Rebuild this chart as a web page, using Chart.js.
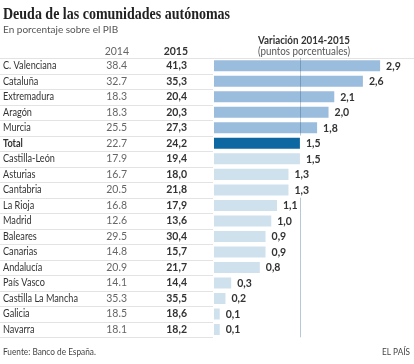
<!DOCTYPE html>
<html>
<head>
<meta charset="utf-8">
<script src="https://cdn.jsdelivr.net/npm/chart.js@4.4.1/dist/chart.umd.min.js"></script>
<style>
html,body{margin:0;padding:0;background:#fff;}
#wrap{width:414px;height:364px;position:relative;}
</style>
</head>
<body>
<div id="wrap"><canvas id="c" width="414" height="364"></canvas></div>
<script>
const categories = ['C. Valenciana','Cataluña','Extremadura','Aragón','Murcia','Total','Castilla-León','Asturias','Cantabria','La Rioja','Madrid','Baleares','Canarias','Andalucía','País Vasco','Castilla La Mancha','Galicia','Navarra'];
const values2014 = [38.4, 32.7, 18.3, 18.3, 25.5, 22.7, 17.9, 16.7, 20.5, 16.8, 12.6, 29.5, 14.8, 20.9, 14.1, 35.3, 18.5, 18.1];
const values2015 = [41.3, 35.3, 20.4, 20.3, 27.3, 24.2, 19.4, 18.0, 21.8, 17.9, 13.6, 30.4, 15.7, 21.7, 14.4, 35.5, 18.6, 18.2];
const variation = [2.9, 2.6, 2.1, 2.0, 1.8, 1.5, 1.5, 1.3, 1.3, 1.1, 1.0, 0.9, 0.9, 0.8, 0.3, 0.2, 0.1, 0.1];
const xTicks = [0, 1.5, 3.3];

const totalIndex = categories.indexOf('Total');
const COL_TOP = '#9bbddd', COL_TOTAL = '#0d67a1', COL_LIGHT = '#cfe1ed';
const barColors = categories.map((c, i) => i < totalIndex ? COL_TOP : (i === totalIndex ? COL_TOTAL : COL_LIGHT));
const FONT = 'Lato, "Open Sans", sans-serif';
const fmtComma = v => v.toFixed(1).replace('.', ',');
const fmtDot = v => v.toFixed(1);

function narrowText(ctx, text, x, y, squeeze) {
  const w = ctx.measureText(text).width;
  ctx.fillText(text, x, y, w * squeeze);
}

const tablePlugin = {
  id: 'table',
  beforeDatasetsDraw(chart) {
    const {ctx, scales: {y}} = chart;
    const half = (y.getPixelForValue(1) - y.getPixelForValue(0)) / 2;
    const left = chart.chartArea.left;
    ctx.save();
    ctx.strokeStyle = '#e4e2e2';
    ctx.lineWidth = 1;
    for (let i = 0; i <= categories.length; i++) {
      const yy = Math.round(y.getPixelForValue(i) - half) + 0.5;
      ctx.beginPath();
      ctx.moveTo(0, yy);
      ctx.lineTo(i === 0 ? chart.width : left - 1, yy);
      ctx.stroke();
    }
    ctx.restore();
  },
  afterDatasetsDraw(chart) {
    const {ctx, scales: {x, y}} = chart;
    const half = (y.getPixelForValue(1) - y.getPixelForValue(0)) / 2;
    const refX = Math.round(x.getPixelForValue(variation[totalIndex])) + 0.5;
    ctx.save();
    // header texts
    ctx.fillStyle = '#222';
    ctx.textBaseline = 'alphabetic';
    ctx.textAlign = 'left';
    ctx.font = 'bold 16px "Liberation Serif", serif';
    ctx.fillText('Deuda de las comunidades autónomas', 3, 19, 227);
    ctx.fillStyle = '#555';
    ctx.font = '10px ' + FONT;
    ctx.fillText('En porcentaje sobre el PIB', 3, 33);
    ctx.fillStyle = '#333';
    ctx.textAlign = 'center';
    ctx.font = 'bold 10.5px ' + FONT;
    ctx.fillText('Variación 2014-2015', 304, 44, 92);
    ctx.fillStyle = '#555';
    ctx.font = '10.5px ' + FONT;
    ctx.fillText('(puntos porcentuales)', 304, 55, 92);
    ctx.textAlign = 'right';
    ctx.fillStyle = '#666';
    ctx.fillText('2014', 129, 55);
    ctx.fillStyle = '#333';
    ctx.font = 'bold 10.5px ' + FONT;
    ctx.fillText('2015', 188, 55);

    // rows
    ctx.textBaseline = 'middle';
    const meta = chart.getDatasetMeta(0);
    categories.forEach((cat, i) => {
      const cy = y.getPixelForValue(i);
      ctx.textAlign = 'left';
      ctx.fillStyle = '#333';
      ctx.font = (i === totalIndex ? 'bold ' : '') + '10.5px ' + FONT;
      narrowText(ctx, cat, 3, cy, 0.87);
      ctx.textAlign = 'right';
      ctx.fillStyle = '#666';
      ctx.font = '10.5px ' + FONT;
      ctx.fillText(fmtDot(values2014[i]), 127, cy);
      ctx.fillStyle = '#333';
      ctx.font = 'bold 10.5px ' + FONT;
      ctx.fillText(fmtComma(values2015[i]), 187, cy);

      // reference line segment
      const barEnd = meta.data[i].x;
      ctx.font = 'bold 10.5px ' + FONT;
      const lbl = fmtComma(variation[i]);
      const tw = ctx.measureText(lbl).width;
      const lblLeft = barEnd + 6, lblRight = lblLeft + tw + 2;
      if (!(refX >= barEnd - 1.5 && refX <= lblRight)) {
        ctx.strokeStyle = 'rgba(40,80,125,0.32)';
        ctx.lineWidth = 1;
        ctx.beginPath();
        ctx.moveTo(refX, y.getPixelForValue(i) - half);
        ctx.lineTo(refX, y.getPixelForValue(i) + half);
        ctx.stroke();
      }
      ctx.textAlign = 'left';
      ctx.fillStyle = '#333';
      ctx.fillText(lbl, lblLeft, cy + 0.5);
    });

    // footer
    ctx.textBaseline = 'alphabetic';
    ctx.textAlign = 'left';
    ctx.fillStyle = '#444';
    ctx.font = '9.5px ' + FONT;
    narrowText(ctx, 'Fuente: Banco de España.', 3, 355, 0.87);
    ctx.textAlign = 'right';
    ctx.fillText('EL PAÍS', 410, 355, 28);
    ctx.restore();
  }
};

new Chart(document.getElementById('c'), {
  type: 'bar',
  data: {
    labels: categories,
    datasets: [{
      data: variation,
      backgroundColor: barColors,
      borderWidth: 0,
      barPercentage: 1,
      categoryPercentage: 0.71
    }]
  },
  options: {
    indexAxis: 'y',
    responsive: false,
    animation: false,
    devicePixelRatio: 1,
    layout: { padding: { left: 214, top: 58, right: 11, bottom: 26.7 } },
    plugins: { legend: { display: false }, tooltip: { enabled: false }, title: { display: false } },
    scales: {
      x: { display: false, min: xTicks[0], max: xTicks[xTicks.length - 1] },
      y: { display: false }
    }
  },
  plugins: [tablePlugin]
});
</script>
</body>
</html>
